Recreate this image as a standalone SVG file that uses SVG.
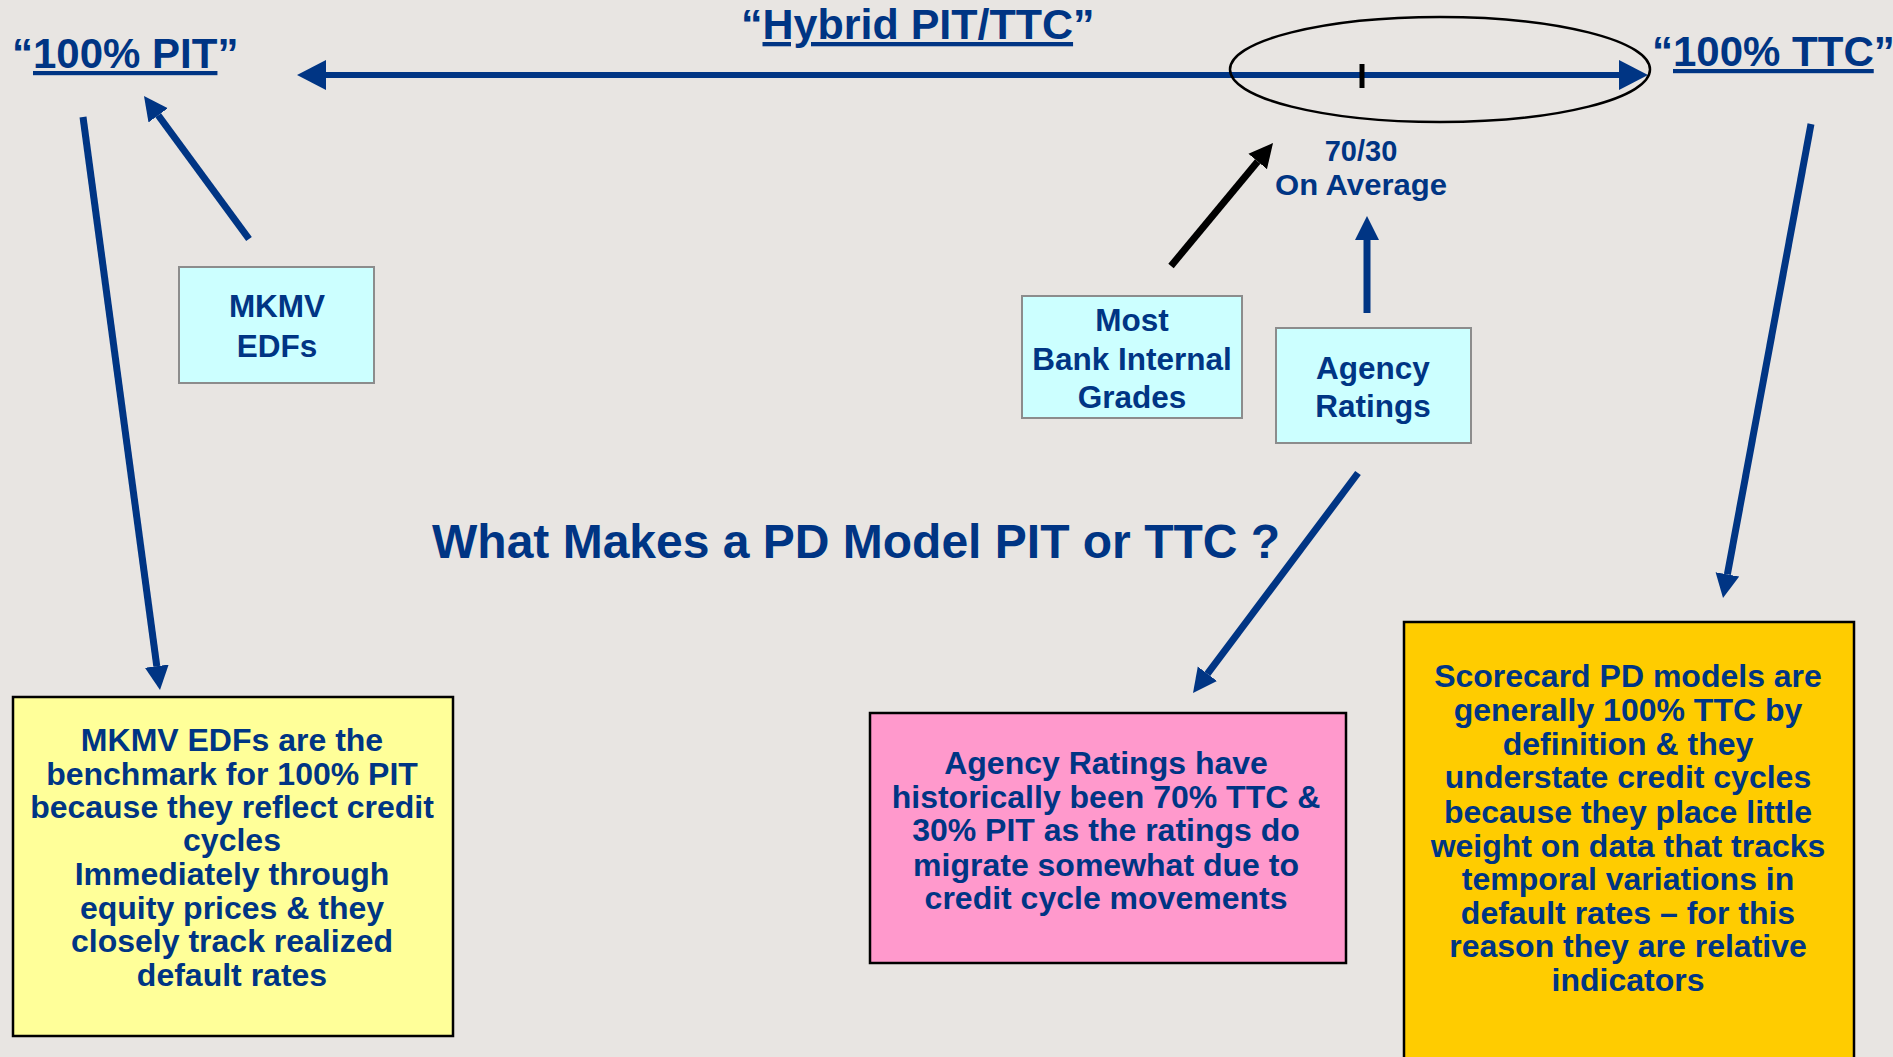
<svg xmlns="http://www.w3.org/2000/svg" width="1893" height="1057" viewBox="0 0 1893 1057">
<defs>
<style>
text{font-family:"Liberation Sans",Arial,sans-serif;font-weight:bold;fill:#003584;}
.head{font-size:42px;}
.lbl{font-size:31.5px;text-anchor:middle;}
.body{font-size:32px;text-anchor:middle;}
.cyan{fill:#CCFFFF;stroke:#8C8C8C;stroke-width:2;}
.note{stroke:#000;stroke-width:2.5;}
.nv{stroke:#003584;stroke-width:7;fill:none;}
.u{text-decoration:underline;}
</style>
<marker id="hl" markerUnits="userSpaceOnUse" markerWidth="30" markerHeight="30" refX="0" refY="15" orient="auto-start-reverse" viewBox="0 0 30 30"><path d="M0,0 L29,15 L0,30 Z" fill="#003584"/></marker>
<marker id="hs" markerUnits="userSpaceOnUse" markerWidth="26" markerHeight="26" refX="0" refY="12" orient="auto" viewBox="0 0 26 24"><path d="M0,0 L24,12 L0,24 Z" fill="#003584"/></marker>
<marker id="hb" markerUnits="userSpaceOnUse" markerWidth="26" markerHeight="26" refX="0" refY="12" orient="auto" viewBox="0 0 26 24"><path d="M0,0 L24,12 L0,24 Z" fill="#000"/></marker>
</defs>
<rect width="1893" height="1057" fill="#E8E5E2"/>

<g id="scale-labels">
<text class="head" x="12" y="68">“<tspan class="u">100% PIT</tspan>”</text>
<text x="741" y="39" style="font-size:43px">“<tspan class="u">Hybrid PIT/TTC</tspan>”</text>
<text class="head" x="1652" y="66">“<tspan class="u">100% TTC</tspan>”</text>
</g>

<g id="avg-label">
<text class="lbl" x="1361" y="161" style="font-size:29px">70/30</text>
<text class="lbl" x="1361" y="195" style="font-size:29px" textLength="172" lengthAdjust="spacingAndGlyphs">On Average</text>
</g>

<g id="title">
<text x="432" y="558" style="font-size:48px">What Makes a PD Model PIT or TTC ?</text>
</g>

<g id="connectors">
<line x1="326" y1="75" x2="1619" y2="75" stroke="#003584" stroke-width="6" marker-start="url(#hl)" marker-end="url(#hl)"/>
<ellipse cx="1440" cy="69.5" rx="210" ry="52.5" fill="none" stroke="#000" stroke-width="2.5"/>
<line x1="1362" y1="64" x2="1362" y2="88" stroke="#000" stroke-width="5"/>
<line class="nv" x1="83" y1="117" x2="156.8" y2="666.2" marker-end="url(#hs)"/>
<line class="nv" x1="249" y1="239" x2="158.2" y2="115.3" marker-end="url(#hs)"/>
<line x1="1171" y1="266" x2="1257.7" y2="161.5" stroke="#000" stroke-width="7" marker-end="url(#hb)"/>
<line class="nv" x1="1367" y1="313" x2="1367" y2="240" stroke-width="8" marker-end="url(#hs)"/>
<line class="nv" x1="1358" y1="473" x2="1207.4" y2="673.8" marker-end="url(#hs)"/>
<line class="nv" x1="1811" y1="124" x2="1727.4" y2="574.4" marker-end="url(#hs)"/>
</g>

<g id="mkmv-edfs">
<rect class="cyan" x="179" y="267" width="195" height="116"/>
<text class="lbl" x="277" y="317">MKMV</text>
<text class="lbl" x="277" y="357">EDFs</text>
</g>

<g id="bank-grades">
<rect class="cyan" x="1022" y="296" width="220" height="122"/>
<text class="lbl" x="1132" y="331">Most</text>
<text class="lbl" x="1132" y="369.5">Bank Internal</text>
<text class="lbl" x="1132" y="408">Grades</text>
</g>

<g id="agency-ratings">
<rect class="cyan" x="1276" y="328" width="195" height="115"/>
<text class="lbl" x="1373" y="379">Agency</text>
<text class="lbl" x="1373" y="417">Ratings</text>
</g>

<g id="note-pit">
<rect class="note" x="13" y="697" width="440" height="339" fill="#FFFF99"/>
<text class="body" x="232" y="751">MKMV EDFs are the</text>
<text class="body" x="232" y="785">benchmark for 100% PIT</text>
<text class="body" x="232" y="818">because they reflect credit</text>
<text class="body" x="232" y="851">cycles</text>
<text class="body" x="232" y="885">Immediately through</text>
<text class="body" x="232" y="919">equity prices &amp; they</text>
<text class="body" x="232" y="952">closely track realized</text>
<text class="body" x="232" y="986">default rates</text>
</g>

<g id="note-agency">
<rect class="note" x="870" y="713" width="476" height="250" fill="#FF99CC"/>
<text class="body" x="1106" y="774">Agency Ratings have</text>
<text class="body" x="1106" y="808">historically been 70% TTC &amp;</text>
<text class="body" x="1106" y="841">30% PIT as the ratings do</text>
<text class="body" x="1106" y="876">migrate somewhat due to</text>
<text class="body" x="1106" y="909">credit cycle movements</text>
</g>

<g id="note-ttc">
<rect class="note" x="1404" y="622" width="450" height="460" fill="#FFCC00"/>
<text class="body" x="1628" y="687">Scorecard PD models are</text>
<text class="body" x="1628" y="721">generally 100% TTC by</text>
<text class="body" x="1628" y="755">definition &amp; they</text>
<text class="body" x="1628" y="788">understate credit cycles</text>
<text class="body" x="1628" y="823">because they place little</text>
<text class="body" x="1628" y="857">weight on data that tracks</text>
<text class="body" x="1628" y="890">temporal variations in</text>
<text class="body" x="1628" y="924">default rates – for this</text>
<text class="body" x="1628" y="957">reason they are relative</text>
<text class="body" x="1628" y="991">indicators</text>
</g>
</svg>
